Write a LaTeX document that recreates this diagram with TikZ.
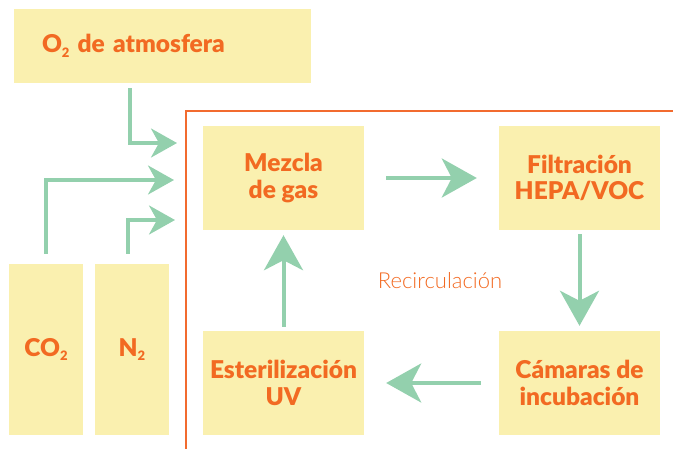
\documentclass[tikz,border=0pt]{standalone}
\usepackage{fontspec}
\setmainfont{Lato}
\newfontfamily\lightfont{Lato Light}
\newfontfamily\heavyfont{Lato Black}
\usetikzlibrary{arrows.meta}
\definecolor{boxfill}{HTML}{FAF0AF}
\definecolor{txtor}{HTML}{F26A22}
\definecolor{frameor}{HTML}{F26B2F}
\definecolor{arrgreen}{HTML}{93D0AD}
\tikzset{
  box/.style={fill=boxfill, draw=none, inner sep=0pt, text=txtor, font=\fontsize{24.5}{26.5}\heavyfont, align=center},
  bigarrow/.style={draw=arrgreen, line width=4pt, -{Stealth[length=35pt, width=39pt, inset=10pt, fill=arrgreen]}},
  smallarrow/.style={draw=arrgreen, line width=3.5pt, -{Stealth[length=26pt, width=29pt, inset=8pt, fill=arrgreen]}},
  frameline/.style={draw=frameor, line width=2.6pt}
}
\newcommand{\subtwo}{\raisebox{-0.35ex}{\fontsize{13}{13}\selectfont 2}}
\begin{document}
\begin{tikzpicture}[x=1pt, y=-1pt]
\useasboundingbox (0,0) rectangle (673,448);
% frame
\coordinate (fbl) at (186,460);
\coordinate (ftl) at (186,111);
\coordinate (ftr) at (690,111);
\draw[frameline] (fbl) -- (ftl) -- (ftr);
% boxes
\node[box, minimum width=297pt, minimum height=74pt, text width=241pt, align=left] (o2) at (162.5,46) {O\subtwo{} de atmosfera};
\node[box, minimum width=74pt, minimum height=171pt] (co2) at (46,349.5) {CO\subtwo};
\node[box, minimum width=74pt, minimum height=171pt] (n2) at (132,349.5) {N\subtwo};
\node[box, minimum width=161pt, minimum height=104pt] (mez) at (283.5,178) {Mezcla\\de gas};
\node[box, minimum width=161pt, minimum height=104pt] (fil) at (579.5,178) {Filtración\\HEPA/VOC};
\node[box, minimum width=161pt, minimum height=104pt] (est) at (283.5,383) {Esterilización\\UV};
\node[box, minimum width=161pt, minimum height=104pt] (cam) at (579.5,383) {Cámaras de\\incubación};
\node[text=txtor, font=\fontsize{22}{22}\lightfont, inner sep=0pt] (rec) at (440,281) {Recirculación};
% cycle arrows
\draw[bigarrow] ([xshift=22pt]mez.east) -- ([xshift=-22pt]fil.west);
\draw[bigarrow] ([yshift=-4pt]fil.south) -- ([yshift=5pt]cam.north);
\draw[bigarrow] ([xshift=-18pt]cam.west) -- ([xshift=22pt]est.east);
\draw[bigarrow] ([yshift=4pt]est.north) -- ([yshift=-5pt]mez.south);
% feed arrows
\coordinate (e1) at (177,143);
\coordinate (e2) at (174,180);
\coordinate (e3) at (175,220);
\draw[smallarrow] ([xshift=-32.5pt,yshift=-5pt]o2.south) |- (e1);
\draw[smallarrow] ([yshift=10pt]co2.north) |- (e2);
\draw[smallarrow] ([yshift=10pt,xshift=-4pt]n2.north) |- (e3);
\end{tikzpicture}
\end{document}
